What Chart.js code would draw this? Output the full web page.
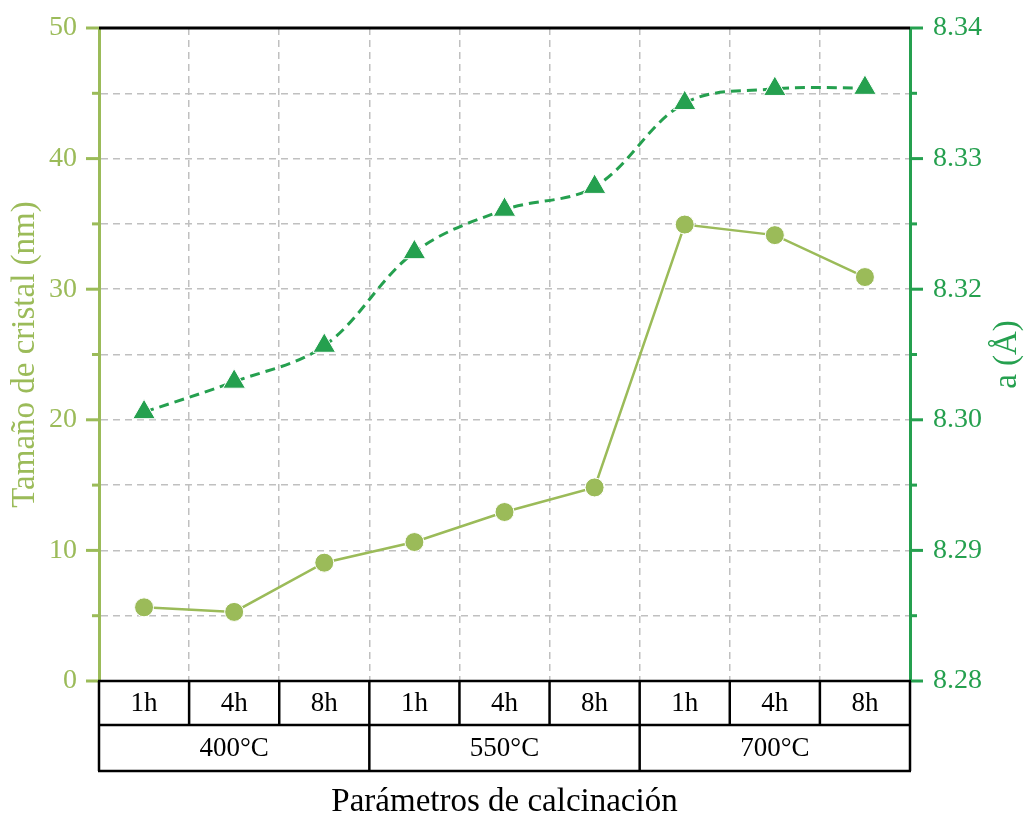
<!DOCTYPE html>
<html>
<head>
<meta charset="utf-8">
<script src="https://cdn.jsdelivr.net/npm/chart.js@4.4.1/dist/chart.umd.min.js"></script>
<style>
  html, body { margin: 0; padding: 0; background: #fff; }
  #wrap { width: 1027px; height: 819px; }
</style>
</head>
<body>
<div id="wrap"><canvas id="calcination-chart" width="1027" height="819"></canvas></div>
<script>
// Calcination runs: three temperatures, three durations each
const hours = ['1h', '4h', '8h', '1h', '4h', '8h', '1h', '4h', '8h'];
const temperatures = ['400°C', '550°C', '700°C'];

// Crystal size (nm), left axis
const crystalSize = [5.64, 5.29, 9.06, 10.64, 12.94, 14.82, 34.95, 34.14, 30.93];
// Lattice parameter a (Å), right axis
const latticeParam = [8.3047, 8.3075, 8.3108, 8.3194, 8.3233, 8.3254, 8.3331, 8.3344, 8.3345];

// Right axis: 5 equal steps, labelled with 2 decimals
const latticeTicks = [8.28, 8.292, 8.304, 8.316, 8.328, 8.34];

const lightGreen = '#9BBB59';
const darkGreen = '#25A04F';
const serif = 'Liberation Serif';

Chart.defaults.font.family = serif;

function strokeLine(ctx, x1, y1, x2, y2) {
  ctx.beginPath();
  ctx.moveTo(x1, y1);
  ctx.lineTo(x2, y2);
  ctx.stroke();
}

// keep the plot box fixed regardless of label overhang
function noOverhang(scale) {
  scale.paddingTop = 0;
  scale.paddingBottom = 0;
  scale.paddingLeft = 0;
  scale.paddingRight = 0;
}

// Frame, tick marks, the hours/temperature table and the right title
const calcTable = {
  id: 'calcTable',
  afterDraw(chart) {
    const { ctx, chartArea: a, scales } = chart;
    const x = scales.x, yL = scales.ySize, yR = scales.yLattice;
    const n = hours.length;
    ctx.save();

    // top border
    ctx.strokeStyle = '#000';
    ctx.lineWidth = 3;
    strokeLine(ctx, a.left, a.top, a.right, a.top);

    // left ticks (major every 10, minor every 5)
    ctx.strokeStyle = lightGreen;
    ctx.lineWidth = 3;
    yL.ticks.forEach(t => {
      const y = yL.getPixelForValue(t.value);
      const len = t.value % 10 === 0 ? 13 : 7;
      strokeLine(ctx, a.left - len, y, a.left, y);
    });

    // right ticks
    ctx.strokeStyle = darkGreen;
    latticeTicks.forEach((v, i) => {
      let y = yR.getPixelForValue(v);
      strokeLine(ctx, a.right, y, a.right + 13, y);
      if (i < latticeTicks.length - 1) {
        y = yR.getPixelForValue((v + latticeTicks[i + 1]) / 2);
        strokeLine(ctx, a.right, y, a.right + 7, y);
      }
    });

    // table below the plot
    const row1 = a.bottom + 44;
    const row2 = a.bottom + 90;
    const edge = i => i === 0 ? a.left : i === n ? a.right
      : (x.getPixelForValue(i - 1) + x.getPixelForValue(i)) / 2;

    ctx.strokeStyle = '#000';
    ctx.lineWidth = 2.5;
    strokeLine(ctx, a.left - 1, a.bottom, a.right + 1, a.bottom);
    strokeLine(ctx, a.left, row1, a.right, row1);
    strokeLine(ctx, a.left - 1, row2, a.right + 1, row2);
    for (let i = 0; i <= n; i++) {
      const px = edge(i);
      strokeLine(ctx, px, a.bottom, px, i % 3 === 0 ? row2 : row1);
    }

    ctx.fillStyle = '#000';
    ctx.font = '27px ' + serif;
    ctx.textAlign = 'center';
    ctx.textBaseline = 'middle';
    hours.forEach((h, i) => {
      ctx.fillText(h, x.getPixelForValue(i), (a.bottom + row1) / 2 + 1);
    });
    temperatures.forEach((t, g) => {
      ctx.fillText(t, (edge(g * 3) + edge(g * 3 + 3)) / 2, (row1 + row2) / 2 + 1);
    });

    // right axis title, reading bottom to top
    ctx.translate(1016, (a.top + a.bottom) / 2);
    ctx.rotate(-Math.PI / 2);
    ctx.fillStyle = darkGreen;
    ctx.font = '33px ' + serif;
    ctx.textBaseline = 'alphabetic';
    ctx.fillText('a (Å)', 0, 0);

    ctx.restore();
  }
};

const ctx = document.getElementById('calcination-chart').getContext('2d');

new Chart(ctx, {
  type: 'line',
  data: {
    labels: hours,
    datasets: [
      {
        label: 'Tamaño de cristal',
        data: crystalSize,
        yAxisID: 'ySize',
        borderColor: lightGreen,
        borderWidth: 2.5,
        tension: 0,
        pointStyle: 'circle',
        pointRadius: 9.5,
        pointBackgroundColor: lightGreen,
        pointBorderColor: '#fff',
        pointBorderWidth: 1
      },
      {
        label: 'a',
        data: latticeParam,
        yAxisID: 'yLattice',
        borderColor: darkGreen,
        borderWidth: 3,
        borderDash: [10, 6],
        tension: 0.35,
        pointStyle: 'triangle',
        pointRadius: 13,
        pointBackgroundColor: darkGreen,
        pointBorderColor: '#fff',
        pointBorderWidth: 1
      }
    ]
  },
  options: {
    responsive: false,
    animation: false,
    layout: { padding: { top: 28, left: 0, right: 0, bottom: 0 } },
    plugins: {
      legend: { display: false },
      tooltip: { enabled: false }
    },
    scales: {
      x: {
        offset: true,
        grid: { offset: true, color: '#c0c0c0', lineWidth: 1.5, drawTicks: false },
        border: { display: false, dash: [7, 5] },
        ticks: { display: false },
        title: {
          display: true,
          text: 'Parámetros de calcinación',
          color: '#000',
          font: { size: 33, family: serif, lineHeight: 1 },
          padding: { top: 0, bottom: 0 }
        },
        afterFit(scale) { scale.height = 138; noOverhang(scale); }
      },
      ySize: {
        position: 'left',
        min: 0,
        max: 50,
        ticks: {
          stepSize: 5,
          padding: 22,
          color: lightGreen,
          font: { size: 28, family: serif },
          callback: v => (v % 10 === 0 ? v : '')
        },
        grid: { color: '#c0c0c0', lineWidth: 1.5, drawTicks: false },
        border: { color: lightGreen, width: 3, dash: [7, 5] },
        title: {
          display: true,
          text: 'Tamaño de cristal (nm)',
          color: lightGreen,
          font: { size: 33, family: serif, lineHeight: 1 },
          padding: { top: 9, bottom: 0 }
        },
        afterFit(scale) { scale.width = 99; noOverhang(scale); }
      },
      yLattice: {
        position: 'right',
        min: 8.28,
        max: 8.34,
        afterBuildTicks(scale) {
          scale.ticks = latticeTicks.map(v => ({ value: v }));
        },
        ticks: {
          padding: 23,
          color: darkGreen,
          font: { size: 28, family: serif },
          callback: v => Number(v).toFixed(2)
        },
        grid: { display: false, drawTicks: false },
        border: { color: darkGreen, width: 3 },
        afterFit(scale) { scale.width = 117; noOverhang(scale); }
      }
    }
  },
  plugins: [calcTable]
});
</script>
</body>
</html>
